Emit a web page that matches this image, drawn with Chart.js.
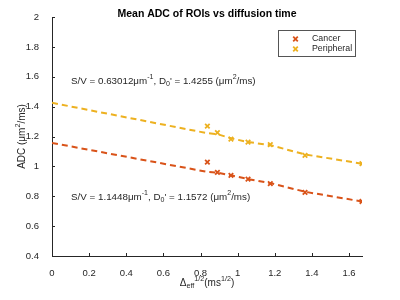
<!DOCTYPE html>
<html>
<head>
<meta charset="utf-8">
<script src="https://cdn.jsdelivr.net/npm/chart.js@4/dist/chart.umd.min.js"></script>
<style>
  html, body { margin: 0; padding: 0; background: #fff; }
  #wrap { width: 400px; height: 300px; }
</style>
</head>
<body>
<div id="wrap"><canvas id="c"></canvas></div>
<script>
// sqrt of effective diffusion time (ms^1/2)
const delta = [0.837, 0.891, 0.964, 1.056, 1.176, 1.363, 1.670];
// mean ADC per ROI (um^2/ms)
const cancerADC = [1.029, 0.960, 0.940, 0.915, 0.884, 0.826, 0.765];
const periphADC = [1.270, 1.226, 1.183, 1.163, 1.146, 1.074, 1.018];
// fitted curves
const fitX = [0, 0.837, 0.891, 0.964, 1.056, 1.176, 1.363, 1.670];
const cancerFit = [1.1572, 0.963, 0.958, 0.940, 0.915, 0.888, 0.830, 0.765];
const periphFit = [1.4255, 1.222, 1.216, 1.188, 1.163, 1.142, 1.080, 1.018];
const seriesNames = ['Cancer', 'Peripheral'];
const yTicks = [0.4, 0.6, 0.8, 1, 1.2, 1.4, 1.6, 1.8, 2];

const red = '#D95319';
const yellow = '#EDB120';
const ink = '#262626';
const FONT = 'Liberation Sans, Arial, sans-serif';

const pts = (xs, ys) => xs.map((x, i) => ({ x: x, y: ys[i] }));
const fmt = v => String(Math.round(v * 10) / 10);

// draws text made of normal / superscript / subscript pieces
function rich(ctx, parts, x, y, size, align) {
  const widths = parts.map(p => {
    ctx.font = (p[1] ? size * 0.72 : size) + 'px ' + FONT;
    return ctx.measureText(p[0]).width;
  });
  const total = widths.reduce((a, b) => a + b, 0);
  let cx = align === 'center' ? x - total / 2 : x;
  parts.forEach((p, i) => {
    ctx.font = (p[1] ? size * 0.72 : size) + 'px ' + FONT;
    let dy = 0;
    if (p[1] === 'sup') dy = -size * 0.42;
    if (p[1] === 'sub') dy = size * 0.3;
    ctx.fillText(p[0], cx, y + dy);
    cx += widths[i];
  });
}

function cross(ctx, x, y, r, color) {
  ctx.save();
  ctx.strokeStyle = color;
  ctx.lineWidth = 1.8;
  ctx.beginPath();
  ctx.moveTo(x - r, y - r); ctx.lineTo(x + r, y + r);
  ctx.moveTo(x + r, y - r); ctx.lineTo(x - r, y + r);
  ctx.stroke();
  ctx.restore();
}

const decor = {
  id: 'decor',
  afterDraw(chart) {
    const ctx = chart.ctx;
    const a = chart.chartArea;
    const xs = chart.scales.x, ys = chart.scales.y;
    ctx.save();
    // inward ticks
    ctx.strokeStyle = ink;
    ctx.lineWidth = 1;
    ctx.beginPath();
    xs.ticks.forEach(t => {
      const px = Math.round(xs.getPixelForValue(t.value)) + 0.5;
      ctx.moveTo(px, a.bottom); ctx.lineTo(px, a.bottom - 3);
    });
    ys.ticks.forEach(t => {
      const py = Math.round(ys.getPixelForValue(t.value)) + 0.5;
      ctx.moveTo(a.left, py); ctx.lineTo(a.left + 3, py);
    });
    ctx.stroke();

    ctx.fillStyle = '#000';
    ctx.textBaseline = 'middle';
    ctx.textAlign = 'center';
    ctx.font = 'bold 10.5px ' + FONT;
    ctx.fillText('Mean ADC of ROIs vs diffusion time', (a.left + a.right) / 2, 14);

    ctx.textAlign = 'left';
    ctx.fillStyle = ink;
    rich(ctx, [['S/V = 0.63012\u03bcm'], ['-1', 'sup'], [', D'], ['0', 'sub'], ['\' = 1.4255 (\u03bcm'], ['2', 'sup'], ['/ms)']], 71, 81, 9.8, 'left');
    rich(ctx, [['S/V = 1.1448\u03bcm'], ['-1', 'sup'], [', D'], ['0', 'sub'], ['\' = 1.1572 (\u03bcm'], ['2', 'sup'], ['/ms)']], 71, 197, 9.8, 'left');

    // axis labels
    rich(ctx, [['\u0394'], ['eff', 'sub'], ['1/2', 'sup'], ['(ms'], ['1/2', 'sup'], [')']], (a.left + a.right) / 2, 283, 10, 'center');
    ctx.save();
    ctx.translate(22, (a.top + a.bottom) / 2);
    ctx.rotate(-Math.PI / 2);
    rich(ctx, [['ADC ('], ['\u03bcm'], ['2', 'sup'], ['/ms)']], 0, 0, 10, 'center');
    ctx.restore();

    // legend
    ctx.fillStyle = '#fff';
    ctx.fillRect(278.5, 30.5, 77, 26);
    ctx.strokeStyle = '#555';
    ctx.lineWidth = 1;
    ctx.strokeRect(278.5, 30.5, 77, 26);
    cross(ctx, 295.5, 39, 2.3, red);
    cross(ctx, 295.5, 49, 2.3, yellow);
    ctx.fillStyle = ink;
    ctx.font = '8.8px ' + FONT;
    ctx.fillText(seriesNames[0], 312, 39);
    ctx.fillText(seriesNames[1], 312, 49);
    ctx.restore();
  }
};

new Chart(document.getElementById('c'), {
  type: 'scatter',
  data: {
    datasets: [
      { label: 'cancer fit', data: pts(fitX, cancerFit), showLine: true, borderColor: red, borderWidth: 2,
        borderDash: [6, 4], pointRadius: 0, fill: false },
      { label: 'peripheral fit', data: pts(fitX, periphFit), showLine: true, borderColor: yellow, borderWidth: 2,
        borderDash: [6, 4], pointRadius: 0, fill: false },
      { label: seriesNames[0], data: pts(delta, cancerADC), pointStyle: 'crossRot', pointRadius: 3.2,
        borderColor: red, backgroundColor: red, pointBorderWidth: 1.8 },
      { label: seriesNames[1], data: pts(delta, periphADC), pointStyle: 'crossRot', pointRadius: 3.2,
        borderColor: yellow, backgroundColor: yellow, pointBorderWidth: 1.8 }
    ]
  },
  options: {
    responsive: true,
    maintainAspectRatio: false,
    animation: false,
    layout: { padding: { top: 17, right: 38, left: 0, bottom: 0 } },
    plugins: { legend: { display: false }, tooltip: { enabled: false } },
    scales: {
      x: {
        type: 'linear', min: 0, max: 1.67,
        grid: { display: false },
        border: { display: true, color: ink, width: 1 },
        ticks: { stepSize: 0.2, includeBounds: false, color: ink, padding: 4,
                 font: { family: FONT, size: 9.5 }, maxRotation: 0, callback: fmt },
        afterFit: s => { s.height = 44; }
      },
      y: {
        type: 'linear', min: 0.4, max: 2,
        grid: { display: false },
        border: { display: true, color: ink, width: 1 },
        afterBuildTicks: s => { s.ticks = yTicks.map(v => ({ value: v })); },
        ticks: { color: ink, padding: 5, font: { family: FONT, size: 9.5 }, callback: fmt },
        afterFit: s => { s.width = 52; }
      }
    }
  },
  plugins: [decor]
});
</script>
</body>
</html>
